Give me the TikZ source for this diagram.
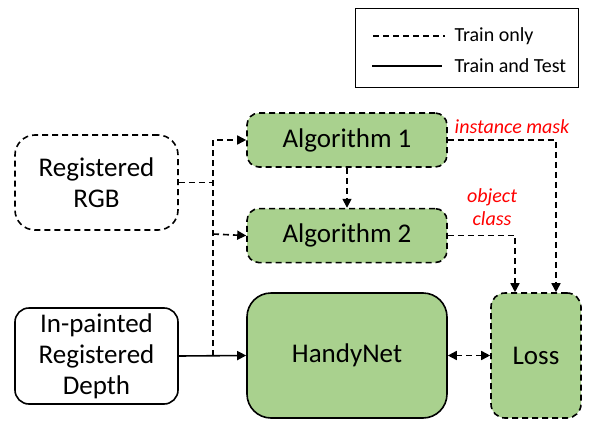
\documentclass[tikz,border=0pt]{standalone}
\usepackage{fontspec}
\setmainfont{Carlito}
\usetikzlibrary{positioning,arrows.meta}
\definecolor{boxgreen}{HTML}{A9D18E}
\tikzstyle{inbox}=[rectangle, rounded corners=20pt, draw=black, line width=1.6pt, align=center, font=\fontsize{27}{31}\selectfont]
\tikzstyle{algbox}=[rectangle, rounded corners=12pt, draw=black, fill=boxgreen, line width=1.6pt, dash pattern=on 6pt off 4pt, minimum width=200pt, minimum height=54pt, align=center, font=\fontsize{27}{31}\selectfont]
\tikzstyle{netbox}=[rectangle, rounded corners=24pt, draw=black, fill=boxgreen, line width=1.6pt, minimum height=125pt, align=center, font=\fontsize{27}{31}\selectfont]
\tikzstyle{line}=[-, line width=1.6pt]
\tikzstyle{sline}=[-, line width=1.6pt, dash pattern=on 6pt off 4pt]
\tikzstyle{tip}=[-{Triangle[length=9pt,width=9pt]}]
\tikzstyle{lbl}=[text=red, font=\fontsize{20}{23}\selectfont\itshape, align=center]
\begin{document}
\begin{tikzpicture}[x=1pt,y=-1pt]
    \useasboundingbox (0,0) rectangle (597,431);

    \node (legend) [rectangle, draw=black, line width=1pt, minimum width=223pt, minimum height=79pt] at (466.5,47.5) {};
    \coordinate (dasha) at (373,36);
    \coordinate (dashb) at (445,36);
    \coordinate (sola) at (372,66);
    \coordinate (solb) at (442,66);
    \node (trainonly) [anchor=west, font=\fontsize{20}{22}\selectfont] at (451,36) {Train only};
    \node (traintest) [anchor=west, font=\fontsize{20}{22}\selectfont] at (451,66) {Train and Test};

    \node (rgb) [inbox, dash pattern=on 6pt off 4pt, minimum width=163pt, minimum height=95pt] at (96.5,182.5) {Registered\\RGB};
    \node (depth) [inbox, rounded corners=14pt, minimum width=163pt, minimum height=96pt] at (96.5,356) {In-painted\\Registered\\Depth};

    \node (alg1) [algbox] at (347,140) {Algorithm 1};
    \node (alg2) [algbox, below=40pt of alg1] {Algorithm 2};
    \node (net) [netbox, minimum width=200pt] at (347,355.5) {HandyNet};
    \node (loss) [netbox, rounded corners=14pt, dash pattern=on 6pt off 4pt, minimum width=90pt] at (536,355.5) {Loss};

    \node (mask) [lbl] at (512,127) {instance mask};
    \node (class) [lbl] at (492,207) {object\\class};

    \coordinate (jrgb) at (213,182.5);
    \coordinate (jalg2) at (213,234);
    \coordinate (jdepth) at (213,356);

%legend
   \draw[sline, line width=1.2pt] (dasha) -- (dashb);
   \draw[line, line width=1.2pt] (sola) -- (solb);

%inputs
   \draw[sline] (rgb.east) -- (jrgb);
   \draw[sline, tip] (jdepth) |- (alg1.west);
   \draw[sline, tip] (jalg2) -- (alg2.west);
   \draw[line, tip] (depth.east) -- (net.west);

%outputs
   \draw[sline, tip] (alg1) -- (alg2);
   \draw[sline, tip] (alg1.east) -| ([xshift=20pt]loss.north);
   \draw[sline, tip] (alg2.east) -| ([xshift=-21pt]loss.north);
   \draw[sline, {Triangle[length=9pt,width=9pt]}-{Triangle[length=9pt,width=9pt]}] (net) -- (loss);

\end{tikzpicture}
\end{document}
